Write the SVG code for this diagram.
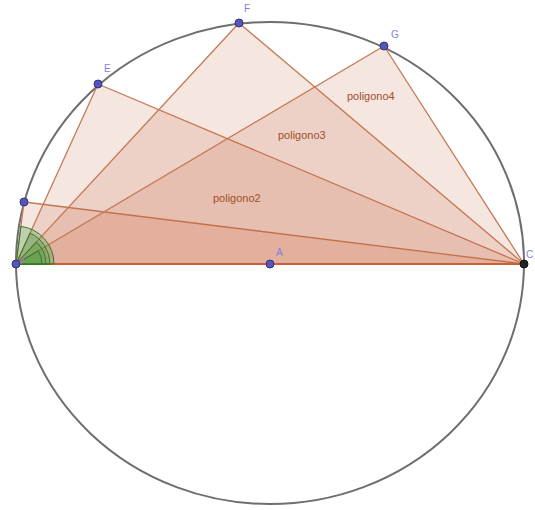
<svg xmlns="http://www.w3.org/2000/svg" width="535" height="510" viewBox="0 0 535 510">
<style>
.tri{fill:#c8643c;fill-opacity:0.16;stroke:#c47a55;stroke-width:1.3;stroke-linejoin:round}
.lbl{font-family:"Liberation Sans",Arial,sans-serif;font-size:11px;fill:#a0502c}
.plbl{font-family:"Liberation Sans",Arial,sans-serif;font-size:10px;fill:#8080e0}
.pt{fill:#5555bb;stroke:#33337a;stroke-width:1}
.ang{fill:#4a9a3a;fill-opacity:0.3;stroke:#2e7a2a;stroke-width:1}
</style>
<rect width="535" height="510" fill="#ffffff"/>
<g id="circle">
<ellipse cx="270" cy="263" rx="254" ry="241" fill="none" stroke="#6e6e6e" stroke-width="2"/>
</g>
<g id="connectors">
<polygon id="poligono1" class="tri" points="16,264 24,202 524,264"/>
<polygon id="poligono2" class="tri" points="16,264 98,84 524,264"/>
<polygon id="poligono3" class="tri" points="16,264 239,23 524,264"/>
<polygon id="poligono4" class="tri" points="16,264 384,46 524,264"/>
<line x1="16" y1="264" x2="524" y2="264" stroke="#c8603c" stroke-width="2.2"/>
</g>
<g id="angles">
<path class="ang" d="M16,264 L54,264 A38,38 0 0 0 20.9,226.3 Z"/>
<path class="ang" d="M16,264 L50,264 A34,34 0 0 0 30.1,233.1 Z"/>
<path class="ang" d="M16,264 L46,264 A30,30 0 0 0 36.4,242 Z"/>
<path class="ang" d="M16,264 L42,264 A26,26 0 0 0 38.4,250.8 Z"/>
<path d="M16,264 L22,264 L26,254 Z" fill="#c070c0" fill-opacity="0.6"/>
</g>
<g id="labels">
<text class="lbl" x="213" y="202">poligono2</text>
<text class="lbl" x="278" y="139">poligono3</text>
<text class="lbl" x="347" y="100">poligono4</text>
</g>
<g id="point-L"><circle class="pt" cx="16" cy="264" r="4"/></g>
<g id="point-P1"><circle class="pt" cx="24" cy="202" r="4"/></g>
<g id="point-E"><circle class="pt" cx="98" cy="84" r="4"/><text class="plbl" x="104" y="72">E</text></g>
<g id="point-F"><circle class="pt" cx="239" cy="23" r="4"/><text class="plbl" x="244" y="12">F</text></g>
<g id="point-G"><circle class="pt" cx="384" cy="46" r="4"/><text class="plbl" x="391" y="38">G</text></g>
<g id="point-A"><circle class="pt" cx="270" cy="264" r="4"/><text class="plbl" x="276" y="256">A</text></g>
<g id="point-C"><circle cx="524" cy="264" r="4" fill="#222" stroke="#111"/><text class="plbl" x="526" y="258">C</text></g>
</svg>
